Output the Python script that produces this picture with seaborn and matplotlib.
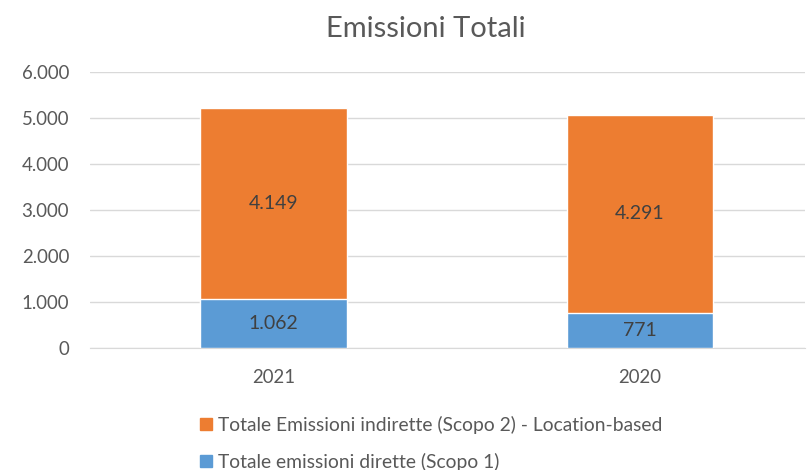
import matplotlib
matplotlib.use("Agg")
import matplotlib.pyplot as plt
import matplotlib.patches as mpatches
import pandas as pd
import seaborn as sns

years = ["2021", "2020"]
scope1 = [1062, 771]
scope2 = [4149, 4291]
label_scope1 = "Totale emissioni dirette (Scopo 1)"
label_scope2 = "Totale Emissioni indirette (Scopo 2) - Location-based"
yticks = [0, 1000, 2000, 3000, 4000, 5000, 6000]

ORANGE = "#ED7D31"
BLUE = "#5B9BD5"
TEXT = "#595959"

sns.set_style("white")
plt.rcParams["font.family"] = ["Lato", "DejaVu Sans"]

df = pd.DataFrame({"year": years, "s1": scope1, "s2": scope2})
df["total"] = df["s1"] + df["s2"]

fig = plt.figure(figsize=(8.07, 4.70), dpi=100)
ax = fig.add_axes([0.1115, 0.2596, 0.886, 0.5872])

sns.barplot(data=df, x="year", y="total", order=years, color=ORANGE,
            width=0.40, saturation=1, ax=ax, zorder=2)
sns.barplot(data=df, x="year", y="s1", order=years, color=BLUE,
            width=0.40, saturation=1, ax=ax, zorder=3)

for i, row in df.iterrows():
    ax.text(i, row["s1"] / 2, f"{row['s1']:,}".replace(",", "."),
            ha="center", va="center", fontsize=14, color="#404040", zorder=4)
    ax.text(i, row["s1"] + row["s2"] / 2, f"{row['s2']:,}".replace(",", "."),
            ha="center", va="center", fontsize=14, color="#404040", zorder=4)

ax.set_ylim(0, 6000)
ax.set_yticks(yticks)
ax.set_yticklabels([f"{v:,}".replace(",", ".") for v in yticks])
ax.set_xlim(-0.5, 1.45)
ax.yaxis.grid(True, color="#D9D9D9", linewidth=1, zorder=0)
ax.set_axisbelow(True)
for side in ["top", "right", "left"]:
    ax.spines[side].set_visible(False)
ax.spines["bottom"].set_color("#D9D9D9")
ax.tick_params(axis="both", length=0, labelsize=13.4, colors=TEXT)
ax.tick_params(axis="x", pad=15)
ax.tick_params(axis="y", pad=15)
ax.set_xlabel("")
ax.set_ylabel("")

fig.text(0.528, 0.938, "Emissioni Totali", ha="center", va="center",
         fontsize=21, color=TEXT)

handles = [mpatches.Patch(color=ORANGE, label=label_scope2),
           mpatches.Patch(color=BLUE, label=label_scope1)]
fig.legend(handles=handles, loc="center left", bbox_to_anchor=(0.248, 0.057),
           frameon=False, fontsize=13.9, labelcolor=TEXT, handlelength=0.6,
           handleheight=0.6, handletextpad=0.3, labelspacing=1.0,
           borderpad=0, borderaxespad=0)

fig.savefig("out.png", dpi=100)
